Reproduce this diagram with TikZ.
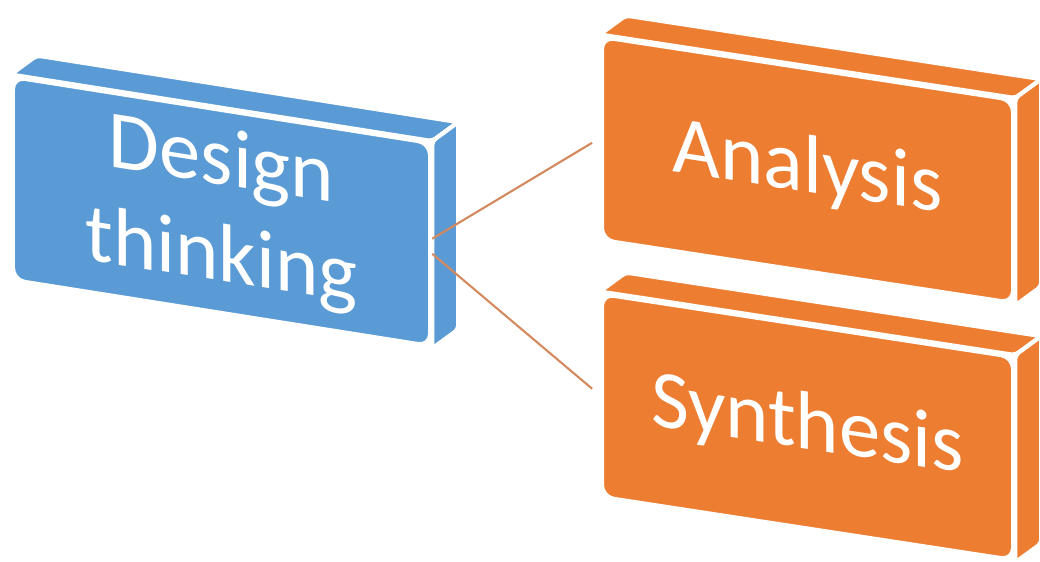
\documentclass[tikz,border=0pt]{standalone}
\usepackage{fontspec}
\setmainfont{Carlito}
\usepackage{xcolor}
\usepackage{tikz}
\usetikzlibrary{calc, backgrounds}

\definecolor{blockblue}{HTML}{5B9BD5}
\definecolor{blockorange}{HTML}{ED7D31}
\definecolor{linkorange}{HTML}{D4895E}

\tikzset{
  frontface/.style={rectangle, rounded corners=0.12cm, draw=white, line width=1.2pt,
    minimum height=2.03cm, inner sep=0pt, text=white, align=center,
    font=\fontsize{23.5}{27.5}\selectfont},
  depthface/.style={draw=white, line width=1.2pt, line join=round, rounded corners=0.04cm},
  link/.style={linkorange, line width=0.6pt}
}

\begin{document}
\begin{tikzpicture}[x=0.01cm, y=0.01cm]
                \useasboundingbox (0,0) rectangle (1040,562);
                % Front faces
                \node[frontface, fill=blockblue, minimum width=4.17cm, yslant=-0.158] (design) at (221.5,350.5) {Design\\thinking};
                \node[frontface, fill=blockorange, minimum width=4.11cm, yslant=-0.153] (analysis) at (807.5,392) {Analysis};
                \node[frontface, fill=blockorange, minimum width=4.11cm, yslant=-0.153] (synthesis) at (807.5,135) {Synthesis};
                % Top and side faces
                \begin{scope}[on background layer]
                \foreach \blk/\col in {design/blockblue, analysis/blockorange, synthesis/blockorange} {
                    \filldraw[depthface, fill=\col] (\blk.north west) -- (\blk.north east) -- ++(26,19) -- ($(\blk.north west)+(26,19)$) -- cycle;
                    \filldraw[depthface, fill=\col] (\blk.north east) -- (\blk.south east) -- ++(26,19) -- ($(\blk.north east)+(26,19)$) -- cycle;
                }
                \end{scope}
                % Links
                \draw[link, shorten >=0.09cm] ([yshift=0.06cm]design.east) -- (analysis.west);
                \draw[link, shorten >=0.1cm] ([yshift=-0.09cm]design.east) -- (synthesis.west);
            \end{tikzpicture}
\end{document}
